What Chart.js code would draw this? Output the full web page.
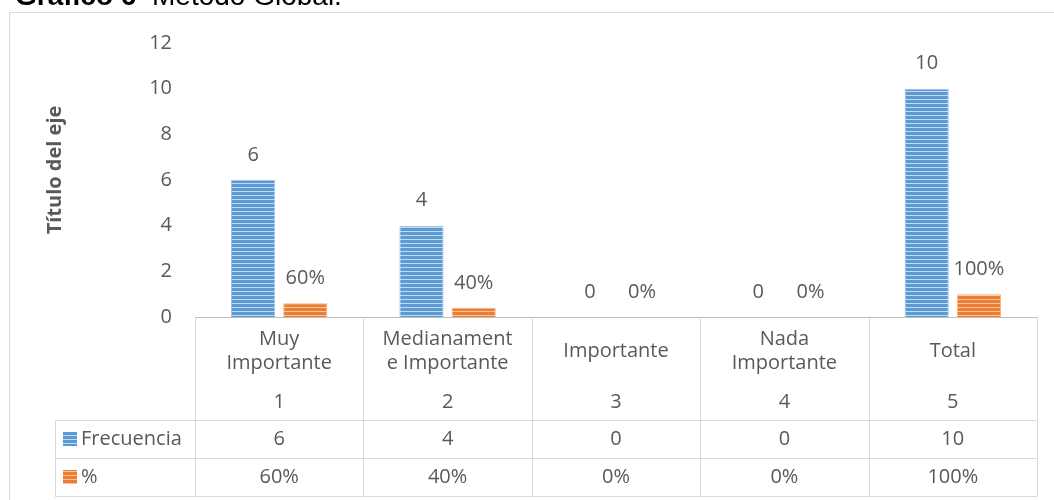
<!DOCTYPE html>
<html>
<head>
<meta charset="utf-8">
<script src="https://cdn.jsdelivr.net/npm/chart.js@4.4.1/dist/chart.umd.min.js"></script>
<style>
  html, body { margin: 0; padding: 0; background: #fff; }
  #wrap { position: relative; width: 1054px; height: 500px; overflow: hidden; }
</style>
</head>
<body>
<div id="wrap"><canvas id="chart" width="1054" height="500"></canvas></div>
<script>
const categoryLines = [['Muy', 'Importante'], ['Medianament', 'e Importante'], ['Importante'], ['Nada', 'Importante'], ['Total']];
const categoryNumbers = ['1', '2', '3', '4', '5'];
const frecuencia = [6, 4, 0, 0, 10];
const porcentaje = [0.6, 0.4, 0, 0, 1];
const yTicks = [0, 2, 4, 6, 8, 10, 12];
const seriesNames = ['Frecuencia', '%'];

const TEXT = '#595959';
const FONT = "'Open Sans', sans-serif";
const SIZE = 20;

function stripes(base, light) {
  const c = document.createElement('canvas');
  c.width = 4; c.height = 4;
  const g = c.getContext('2d');
  g.fillStyle = base; g.fillRect(0, 0, 4, 4);
  g.fillStyle = light; g.fillRect(0, 3, 4, 1);
  return g.createPattern(c, 'repeat');
}
const bluePat = stripes('#5B9BD5', '#C3DAF0');
const orangePat = stripes('#ED7D31', '#F7C4A2');

const fmt = (ds, v) => ds === 0 ? String(v) : Math.round(v * 100) + '%';

// labels, table and frame
const extras = {
  id: 'extras',
  afterDraw(chart) {
    const ctx = chart.ctx;
    const a = chart.chartArea;
    ctx.save();

    // caption cut at top
    ctx.fillStyle = '#000';
    ctx.textBaseline = 'alphabetic';
    ctx.textAlign = 'left';
    ctx.font = "bold 28px 'Liberation Sans', Arial, sans-serif";
    ctx.fillText('Gráfico 6', 15, 5);
    ctx.font = "28px 'Liberation Sans', Arial, sans-serif";
    ctx.fillText('Método Global.', 152, 5);

    // outer frame
    ctx.strokeStyle = '#d9d9d9';
    ctx.lineWidth = 1;
    ctx.beginPath();
    ctx.moveTo(9.5, 520); ctx.lineTo(9.5, 12.5); ctx.lineTo(1060, 12.5);
    ctx.stroke();

    // axis title
    ctx.save();
    ctx.translate(55, 170);
    ctx.rotate(-Math.PI / 2);
    ctx.font = 'bold 20px ' + FONT;
    ctx.fillStyle = TEXT;
    ctx.textAlign = 'center';
    ctx.textBaseline = 'middle';
    ctx.fillText('Título del eje', 0, 0);
    ctx.restore();

    // value labels
    ctx.font = SIZE + 'px ' + FONT;
    ctx.fillStyle = TEXT;
    ctx.textAlign = 'center';
    ctx.textBaseline = 'middle';
    chart.data.datasets.forEach((ds, di) => {
      chart.getDatasetMeta(di).data.forEach((el, i) => {
        ctx.fillText(fmt(di, ds.data[i]), el.x, el.y - 25);
      });
    });

    // data table
    const n = categoryLines.length;
    const w = (a.right - a.left) / n;
    const top = a.bottom;
    const hb = top + 103, r1 = hb + 38, r2 = r1 + 38;
    const tl = 55;
    ctx.strokeStyle = '#d9d9d9';
    ctx.beginPath();
    for (let i = 0; i <= n; i++) {
      const xx = Math.round(a.left + i * w) + 0.5;
      ctx.moveTo(xx, top); ctx.lineTo(xx, r2);
    }
    [hb, r1, r2].forEach(yy => {
      ctx.moveTo(tl, Math.round(yy) + 0.5); ctx.lineTo(a.right, Math.round(yy) + 0.5);
    });
    ctx.moveTo(tl + 0.5, hb); ctx.lineTo(tl + 0.5, r2);
    ctx.stroke();
    ctx.strokeStyle = '#bfbfbf';
    ctx.beginPath();
    ctx.moveTo(a.left, Math.round(top) + 0.5); ctx.lineTo(a.right, Math.round(top) + 0.5);
    ctx.stroke();

    ctx.fillStyle = TEXT;
    const xs = chart.scales.x;
    for (let i = 0; i < n; i++) {
      const cx = xs.getPixelForValue(i);
      const lines = categoryLines[i];
      if (lines.length === 2) {
        ctx.fillText(lines[0], cx, top + 22);
        ctx.fillText(lines[1], cx, top + 46);
      } else {
        ctx.fillText(lines[0], cx, top + 34);
      }
      ctx.fillText(categoryNumbers[i], cx, top + 85);
      ctx.fillText(fmt(0, frecuencia[i]), cx, (hb + r1) / 2);
      ctx.fillText(fmt(1, porcentaje[i]), cx, (r1 + r2) / 2);
    }

    // legend keys in the table
    ctx.textAlign = 'left';
    [[bluePat, r1 - hb, hb], [orangePat, r2 - r1, r1]].forEach(([pat, h, y0], k) => {
      const cy = y0 + h / 2;
      ctx.fillStyle = pat;
      ctx.fillRect(63, cy - 7, 14, 14);
      ctx.fillStyle = TEXT;
      ctx.fillText(seriesNames[k], 81, cy);
    });

    ctx.restore();
  }
};

new Chart(document.getElementById('chart'), {
  type: 'bar',
  data: {
    labels: categoryNumbers,
    datasets: [
      { label: seriesNames[0], data: frecuencia, backgroundColor: bluePat, borderColor: '#9DC3E6', borderWidth: 1,
        categoryPercentage: 0.62, barPercentage: 0.846 },
      { label: seriesNames[1], data: porcentaje, backgroundColor: orangePat, borderColor: '#F4B183', borderWidth: 1,
        categoryPercentage: 0.62, barPercentage: 0.846 }
    ]
  },
  options: {
    responsive: false,
    animation: false,
    layout: { padding: { top: 43, right: 17, bottom: 183, left: 0 } },
    plugins: { legend: { display: false }, tooltip: { enabled: false } },
    scales: {
      x: { display: false },
      y: {
        min: 0, max: 12,
        afterFit(scale) { scale.width = 195; },
        afterBuildTicks(scale) { scale.ticks = yTicks.map(v => ({ value: v })); },
        grid: { display: false, drawTicks: false },
        border: { display: false },
        ticks: { padding: 23, color: TEXT, font: { family: FONT, size: SIZE } }
      }
    }
  },
  plugins: [extras]
});
</script>
</body>
</html>
